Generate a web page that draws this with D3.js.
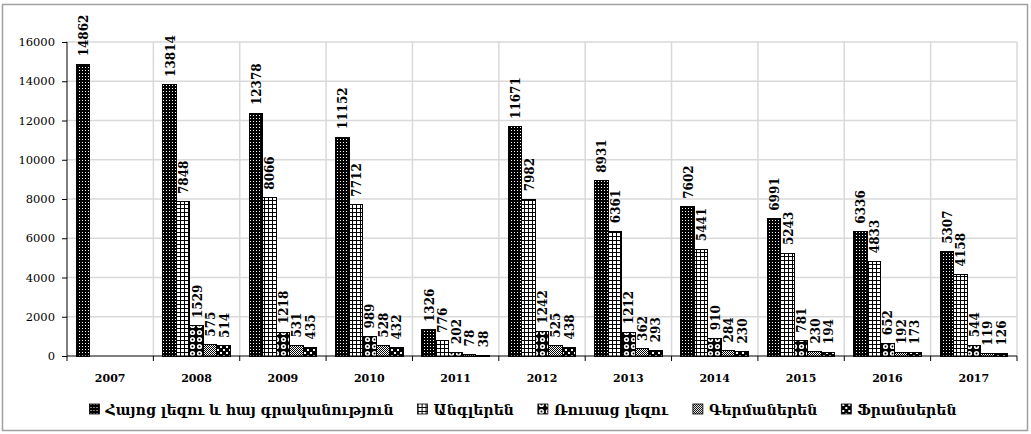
<!DOCTYPE html>
<html><head><meta charset="utf-8">
<script src="https://cdn.jsdelivr.net/npm/d3@7"></script>
<style>
html,body{margin:0;padding:0;background:#fff;}
svg{display:block;}
</style></head>
<body>
<svg id="chart" width="1031" height="434"></svg>
<script>
const years = ["2007","2008","2009","2010","2011","2012","2013","2014","2015","2016","2017"];
const seriesNames = ["Հայոց լեզու և հայ գրականություն","Անգլերեն","Ռուսաց լեզու","Գերմաներեն","Ֆրանսերեն"];
const armenian = [14862,13814,12378,11152,1326,11671,8931,7602,6991,6336,5307];
const english  = [null,7848,8066,7712,776,7982,6361,5441,5243,4833,4158];
const russian  = [null,1529,1218,989,202,1242,1212,910,781,652,544];
const german   = [null,575,531,528,78,525,362,284,230,192,119];
const french   = [null,514,435,432,38,438,293,230,194,173,126];
const yTicks = [0,2000,4000,6000,8000,10000,12000,14000,16000];

const seriesValues = [armenian, english, russian, german, french];
const svg = d3.select("#chart");
const defs = svg.append("defs");

function pat(id, w, h, draw){
  const p = defs.append("pattern").attr("id", id).attr("patternUnits","userSpaceOnUse")
    .attr("width", w).attr("height", h);
  draw(p);
}
pat("p0",3,3,p=>{p.append("rect").attr("width",3).attr("height",3).attr("fill","#000");
  p.append("rect").attr("x",1).attr("y",1).attr("width",1).attr("height",1).attr("fill","#fff");});
pat("p1",4,4,p=>{p.append("rect").attr("width",4).attr("height",4).attr("fill","#fff");
  p.append("rect").attr("width",4).attr("height",1).attr("fill","#000");
  p.append("rect").attr("width",1).attr("height",4).attr("fill","#000");});
pat("p2",7,7,p=>{p.append("rect").attr("width",7).attr("height",7).attr("fill","#000");
  p.append("circle").attr("cx",3.5).attr("cy",3.5).attr("r",2.6).attr("fill","#fff");
  p.append("circle").attr("cx",3.5).attr("cy",3.5).attr("r",1).attr("fill","#000");});
pat("p3",2,2,p=>{p.append("rect").attr("width",2).attr("height",2).attr("fill","#fff");
  p.append("rect").attr("width",1).attr("height",1).attr("fill","#000");
  p.append("rect").attr("x",1).attr("y",1).attr("width",1).attr("height",1).attr("fill","#000");});
pat("p4",6,6,p=>{p.append("rect").attr("width",6).attr("height",6).attr("fill","#000");
  p.append("rect").attr("x",1).attr("y",1).attr("width",2).attr("height",2).attr("fill","#fff");
  p.append("rect").attr("x",4).attr("y",4).attr("width",2).attr("height",2).attr("fill","#fff");});

svg.append("rect").attr("x",2.5).attr("y",4.5).attr("width",1025).attr("height",426)
  .attr("fill","none").attr("stroke","#a0a0a0").attr("stroke-width",1.5);

const pLeft = 67, pRight = 1017, pTop = 42, pBottom = 356;
const x0 = d3.scaleBand().domain(years).range([pLeft, pRight]).padding(0);
const x1 = d3.scaleBand().domain(d3.range(5)).range([0, x0.bandwidth()]).paddingInner(0).paddingOuter(0.7);
const y = d3.scaleLinear().domain([0,16000]).range([pBottom, pTop]);

const g = svg.append("g");
g.selectAll("line.h").data(yTicks.filter(d=>d>0)).enter().append("line")
  .attr("x1",pLeft).attr("x2",pRight).attr("y1",d=>y(d)).attr("y2",d=>y(d))
  .attr("stroke","#d9d9d9").attr("stroke-width",1.5);
const bounds = years.map(yr=>x0(yr)+x0.bandwidth());
g.selectAll("line.v").data(bounds).enter().append("line")
  .attr("x1",d=>d).attr("x2",d=>d).attr("y1",pTop).attr("y2",pBottom)
  .attr("stroke","#d9d9d9").attr("stroke-width",1.5);

const data = [];
years.forEach((yr,i)=>seriesValues.forEach((arr,s)=>{ if(arr[i]!=null) data.push({yr, s, v:arr[i]}); }));
svg.append("g").selectAll("rect").data(data).enter().append("rect")
  .attr("x",d=>x0(d.yr)+x1(d.s)).attr("width",x1.bandwidth())
  .attr("y",d=>y(d.v)).attr("height",d=>y(0)-y(d.v))
  .attr("fill",d=>`url(#p${d.s})`).attr("stroke","#000").attr("stroke-width",1)
  .attr("shape-rendering","crispEdges");

svg.append("g").selectAll("text").data(data).enter().append("text")
  .attr("transform",d=>`translate(${x0(d.yr)+x1(d.s)+x1.bandwidth()/2+1},${y(d.v)-8}) rotate(-90)`)
  .attr("dominant-baseline","central")
  .attr("font-family","DejaVu Serif").attr("font-weight","bold").attr("font-size","12px")
  .attr("fill","#000").text(d=>d.v);

const yAxis = svg.append("g").attr("transform",`translate(${pLeft},0)`)
  .call(d3.axisLeft(y).tickValues(yTicks).tickSize(5).tickFormat(d3.format("d")));
yAxis.select(".domain").attr("stroke","#000").attr("d",`M-0.5,${pTop}H0V${pBottom}`);
yAxis.selectAll(".tick line").attr("stroke","#000");
yAxis.selectAll("text").attr("font-family","DejaVu Serif").attr("font-size","11.5px").attr("fill","#000").attr("x",-12);

const xg = svg.append("g").attr("transform",`translate(0,${pBottom})`);
xg.append("line").attr("x1",pLeft).attr("x2",pRight).attr("stroke","#000");
xg.selectAll("line.t").data([pLeft].concat(bounds)).enter().append("line")
  .attr("x1",d=>d).attr("x2",d=>d).attr("y1",0).attr("y2",5).attr("stroke","#000");
xg.selectAll("text").data(years).enter().append("text")
  .attr("x",d=>x0(d)+x0.bandwidth()/2).attr("y",26).attr("text-anchor","middle")
  .attr("font-family","DejaVu Serif").attr("font-weight","bold").attr("font-size","11px")
  .attr("fill","#000").text(d=>d);

const lg = svg.append("g");
const items = lg.selectAll("g").data(seriesNames).enter().append("g");
items.append("rect").attr("width",10).attr("height",10).attr("y",-11)
  .attr("fill",(d,i)=>`url(#p${i})`).attr("stroke","#000").attr("stroke-width",0.8);
items.append("text").attr("x",16).attr("y",0).attr("font-family","DejaVu Serif")
  .attr("font-weight","bold").attr("font-size","14px").attr("fill","#000").text(d=>d);
const gap = 24;
const widths = [];
items.each(function(){ widths.push(this.getBBox().width); });
const total = d3.sum(widths) + gap*(widths.length-1);
const lStart = 523 - total/2;
items.attr("transform",(d,i)=>`translate(${lStart + d3.sum(widths.slice(0,i)) + gap*i},415)`);
</script>
</body></html>
